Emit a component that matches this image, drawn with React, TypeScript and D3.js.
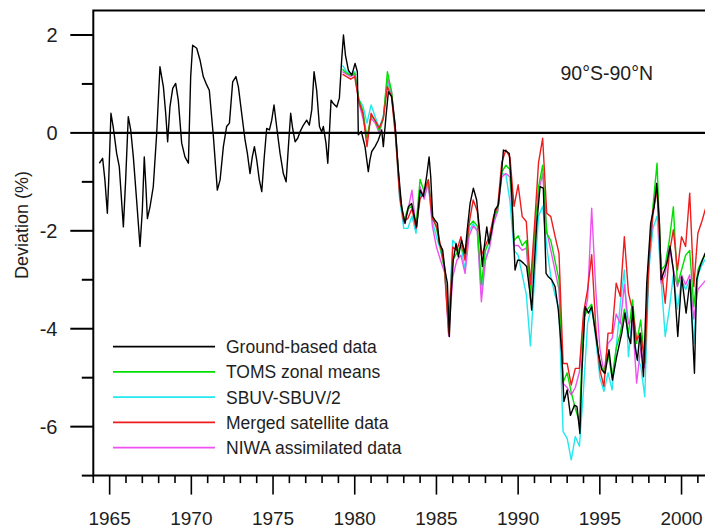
import * as d3 from "d3";

// ground-based record
const groundYears = [
  1964.37, 1964.57, 1964.71, 1964.86, 1964.94, 1965.08, 1965.22, 1965.43, 1965.59, 1965.84,
  1965.98, 1966.14, 1966.29, 1966.45, 1966.65, 1966.86, 1967.0, 1967.12, 1967.22, 1967.31,
  1967.47, 1967.67, 1967.88, 1968.08, 1968.29, 1968.43, 1968.55, 1968.69, 1968.86, 1969.04,
  1969.2, 1969.41, 1969.61, 1969.82, 1969.96, 1970.08, 1970.33, 1970.53, 1970.73, 1970.94,
  1971.1, 1971.35, 1971.59, 1971.76, 1971.96, 1972.16, 1972.33, 1972.53, 1972.73, 1972.88,
  1973.08, 1973.29, 1973.43, 1973.59, 1973.73, 1973.86, 1974.0, 1974.16, 1974.31, 1974.45,
  1974.61, 1974.78, 1974.92, 1975.06, 1975.22, 1975.43, 1975.63, 1975.8, 1975.94, 1976.08,
  1976.2, 1976.35, 1976.51, 1976.65, 1976.86, 1977.06, 1977.22, 1977.37, 1977.51, 1977.67,
  1977.84, 1977.98, 1978.08, 1978.24, 1978.35, 1978.45, 1978.55, 1978.69, 1978.9, 1979.06,
  1979.2, 1979.31, 1979.43, 1979.61, 1979.82, 1980.02, 1980.16, 1980.22, 1980.4, 1980.63,
  1980.83, 1980.93, 1981.04, 1981.24, 1981.44, 1981.65, 1981.75, 1981.91, 1982.06, 1982.26,
  1982.46, 1982.67, 1982.87, 1983.08, 1983.28, 1983.48, 1983.63, 1983.79, 1984.0, 1984.2,
  1984.4, 1984.55, 1984.65, 1984.77, 1984.91, 1985.06, 1985.18, 1985.38, 1985.52, 1985.67,
  1985.79, 1985.89, 1986.03, 1986.2, 1986.34, 1986.54, 1986.75, 1986.88, 1987.06, 1987.26,
  1987.46, 1987.67, 1987.81, 1987.93, 1988.08, 1988.22, 1988.38, 1988.59, 1988.79, 1988.95,
  1989.1, 1989.3, 1989.46, 1989.61, 1989.81, 1989.97, 1990.12, 1990.32, 1990.52, 1990.73,
  1990.83, 1990.97, 1991.14, 1991.34, 1991.54, 1991.71, 1991.85, 1992.05, 1992.26, 1992.46,
  1992.67, 1992.8, 1993.0, 1993.2, 1993.45, 1993.6, 1993.78, 1993.9, 1994.1, 1994.3,
  1994.5, 1994.71, 1994.91, 1995.12, 1995.32, 1995.56, 1995.77, 1996.03, 1996.34, 1996.54,
  1996.75, 1996.89, 1997.01, 1997.16, 1997.3, 1997.46, 1997.67, 1997.87, 1998.11, 1998.32,
  1998.48, 1998.65, 1998.75, 1998.89, 1999.1, 1999.3, 1999.5, 1999.77, 2000.01, 2000.28,
  2000.52, 2000.79, 2000.93, 2001.13, 2001.44, 2001.7,
];
const ground = [
  -0.62, -0.52, -0.96, -1.64, -1.0, 0.4, 0.12, -0.42, -0.69, -1.92,
  -0.96, 0.33, 0.06, -0.49, -1.37, -2.32, -1.58, -0.49, -1.1, -1.75,
  -1.51, -1.1, -0.01, 1.35, 0.94, 0.4, -0.18, 0.53, 0.91, 1.01,
  0.67, -0.21, -0.49, -0.62, 1.15, 1.79, 1.73, 1.49, 1.15, 0.98,
  0.87, -0.08, -1.17, -0.96, -0.28, 0.13, 0.2, 1.04, 1.15, 0.94,
  0.4, -0.15, -0.42, -0.83, -0.49, -0.28, -0.55, -0.96, -1.2, -0.55,
  0.09, 0.06, 0.26, 0.57, 0.13, -0.42, -0.83, -1.0, -0.28, 0.4,
  0.09, -0.18, -0.11, 0.02, 0.16, 0.26, 0.16, 0.47, 1.25, 0.87,
  0.13, 0.02, 0.13, -0.21, -0.62, 0.0, 0.67, 0.6, 0.53, 0.71,
  1.49, 2.0, 1.59, 1.28, 1.18, 1.42, 1.25, -0.04, 0.03, -0.28,
  -0.79, -0.55, -0.38, -0.28, -0.15, 0.06, -0.28, 0.33, 0.84, 0.74,
  0.2, -0.76, -1.51, -1.85, -1.51, -1.44, -1.68, -1.92, -1.17, -1.3,
  -0.89, -0.49, -0.89, -1.71, -1.78, -1.85, -2.26, -2.39, -2.8, -3.07,
  -4.16, -3.34, -2.6, -2.26, -2.53, -2.19, -2.46, -2.0, -1.44, -1.13,
  -1.37, -2.12, -2.73, -2.32, -1.92, -2.26, -1.99, -1.57, -1.47, -0.96,
  -0.35, -0.38, -0.42, -1.23, -2.8, -2.6, -2.6, -2.66, -2.73, -3.28,
  -3.62, -2.8, -1.85, -1.1, -1.13, -2.87, -2.94, -3.0, -3.14, -3.62,
  -4.5, -5.49, -5.25, -5.77, -5.56, -5.59, -6.14, -4.91, -3.55, -3.68,
  -3.55, -4.03, -4.5, -4.84, -4.91, -4.43, -5.05, -4.57, -4.09, -3.68,
  -4.16, -4.3, -3.55, -4.37, -4.64, -4.09, -4.98, -3.07, -1.85, -1.51,
  -1.03, -1.85, -3.0, -2.87, -2.66, -2.32, -2.8, -4.16, -2.94, -3.68,
  -3.0, -4.91, -3.0, -2.73, -2.46, -2.4,
];

// satellite era, quarterly
const satYears = [
  1979.25, 1979.5, 1979.75,
  1980, 1980.25, 1980.5, 1980.75, 1981, 1981.25, 1981.5, 1981.75,
  1982, 1982.25, 1982.5, 1982.75, 1983, 1983.25, 1983.5, 1983.75,
  1984, 1984.25, 1984.5, 1984.75, 1985, 1985.25, 1985.5, 1985.75,
  1986, 1986.25, 1986.5, 1986.75, 1987, 1987.25, 1987.5, 1987.75,
  1988, 1988.25, 1988.5, 1988.75, 1989, 1989.25, 1989.5, 1989.75,
  1990, 1990.25, 1990.5, 1990.75, 1991, 1991.25, 1991.5, 1991.75,
  1992, 1992.25, 1992.5, 1992.75, 1993, 1993.25, 1993.5, 1993.75,
  1994, 1994.25, 1994.5, 1994.75, 1995, 1995.25, 1995.5, 1995.75,
  1996, 1996.25, 1996.5, 1996.75, 1997, 1997.25, 1997.5, 1997.75,
  1998, 1998.25, 1998.5, 1998.75, 1999, 1999.25, 1999.5, 1999.75,
  2000, 2000.25, 2000.5, 2000.75, 2001, 2001.25, 2001.5,
];
const toms = [
  1.3, 1.22, 1.18,
  1.22, 0.7, 0.45, -0.1, 0.35, 0.25, 0.05, 0.3,
  1.25, 0.85, 0.0, -1.2, -1.8, -1.55, -1.5, -1.9,
  -0.95, -1.2, -0.95, -1.7, -1.95, -2.35, -2.8, -4.0,
  -2.6, -2.45, -2.3, -2.55, -1.9, -1.8, -1.9, -3.1,
  -2.4, -2.2, -1.75, -1.55, -0.8, -0.66, -0.75, -2.2,
  -2.1, -2.3, -2.2, -3.3, -2.1, -1.1, -0.66, -2.05,
  -2.2, -2.6, -3.0, -5.1, -4.9, -5.3, -5.63, -5.9,
  -3.8, -3.6, -3.5, -4.1, -4.7, -4.9, -4.5, -5.0,
  -4.4, -4.1, -3.6, -4.1, -3.41, -4.3, -3.82, -4.7,
  -2.6, -1.5, -0.62, -2.8, -2.7, -2.2, -1.51, -3.1,
  -2.8, -2.5, -2.4, -3.55, -2.8, -2.6, -2.46,
];
const sbuv = [
  1.38, 1.25, 1.2,
  1.25, 0.68, 0.55, 0.2, 0.57, 0.33, 0.1, 0.35,
  1.05, 0.8, -0.05, -1.35, -1.95, -1.95, -1.7, -2.05,
  -1.25, -1.3, -1.05, -1.8, -2.12, -2.4, -2.75, -3.9,
  -2.19, -2.3, -2.3, -2.8, -2.0, -1.85, -2.0, -3.3,
  -2.6, -2.3, -1.8, -1.6, -0.83, -0.85, -1.4, -2.4,
  -2.5, -2.9, -3.3, -4.35, -3.0, -1.7, -1.5, -2.32,
  -2.94, -3.3, -3.6, -6.1, -6.24, -6.68, -6.2, -6.4,
  -5.25, -3.89, -3.55, -4.2, -5.0, -5.28, -4.9, -5.25,
  -4.4, -3.5, -2.8, -4.57, -3.7, -4.6, -4.75, -5.39,
  -2.8, -1.95, -1.7, -3.0, -4.16, -3.6, -2.9, -3.6,
  -3.0, -3.2, -3.0, -4.3, -2.9, -2.7, -2.55,
];
const merged = [
  1.2, 1.15, 1.1,
  1.15, 0.64, 0.4, -0.28, 0.4, 0.25, 0.1, 0.3,
  0.95, 0.74, -0.1, -1.3, -1.8, -1.75, -1.55, -1.95,
  -1.35, -1.2, -0.96, -1.75, -1.9, -2.3, -2.75, -4.1,
  -2.33, -2.4, -2.12, -2.6, -1.85, -1.37, -1.6, -2.5,
  -2.3, -2.1, -1.7, -1.5, -0.6, -0.35, -0.5, -1.5,
  -1.06, -1.71, -1.81, -3.1, -1.9, -0.6, -0.11, -1.64,
  -1.71, -2.1, -2.46, -4.71, -4.71, -5.15, -4.81, -4.81,
  -3.68, -3.2, -2.49, -3.96, -4.84, -5.18, -4.09, -4.09,
  -3.07, -3.34, -2.12, -3.27, -3.62, -4.23, -4.09, -4.7,
  -2.6, -1.6, -1.17, -2.73, -3.48, -2.46, -1.98, -2.8,
  -2.12, -2.32, -1.23, -3.14, -2.05, -1.8, -1.51,
];
const niwa = [
  1.25, 1.2, 1.15,
  1.2, 0.62, 0.3, -0.1, 0.3, 0.2, 0.0, 0.3,
  1.11, 0.85, 0.05, -1.2, -1.85, -1.6, -1.17, -1.95,
  -1.1, -1.35, -1.0, -1.9, -2.33, -2.6, -2.85, -4.15,
  -2.94, -2.6, -2.5, -2.87, -2.1, -1.9, -2.0, -3.45,
  -2.6, -2.35, -1.85, -1.6, -0.9, -0.83, -0.9, -2.3,
  -2.3, -2.4, -2.35, -3.4, -2.2, -1.2, -0.83, -2.0,
  -2.4, -2.8, -3.2, -5.12, -5.2, -5.35, -5.2, -4.88,
  -3.8, -3.4, -1.54, -3.2, -4.4, -4.9, -4.3, -4.2,
  -3.7, -3.9, -3.1, -3.9, -3.8, -5.11, -4.4, -4.8,
  -2.7, -1.7, -1.1, -3.07, -2.9, -2.3, -2.8, -3.14,
  -2.9, -3.1, -2.9, -3.8, -3.2, -3.1, -3.0,
];

const seriesNames = [
  "Ground-based data",
  "TOMS zonal means",
  "SBUV-SBUV/2",
  "Merged satellite data",
  "NIWA assimilated data",
];
const seriesColors = ["#000000", "#00e000", "#22e8f0", "#ee1c1c", "#f050f0"];

const W = 705;
const H = 529;
const left = 93.3;
const top = 10.5;
const bottom = 475.6;
const font = "'Liberation Sans', Arial, Helvetica, sans-serif";
const ink = "#1e1e1e";

export default function App() {
  const x = d3.scaleLinear().domain([1964, 2002]).range([left, left + 38 * 16.34]);
  const y = d3.scaleLinear().domain([-7, 2.5]).range([bottom, top]);

  const line = d3
    .line<[number, number]>()
    .x((d) => x(d[0]))
    .y((d) => y(d[1]));

  const groundPts = groundYears.map((t, i) => [t, ground[i]] as [number, number]);
  const sat = (vals: number[]) => satYears.map((t, i) => [t, vals[i]] as [number, number]);

  // draw order: satellites underneath, ground record on top
  const paths = [
    { d: line(sat(sbuv)), c: seriesColors[2] },
    { d: line(sat(niwa)), c: seriesColors[4] },
    { d: line(sat(toms)), c: seriesColors[1] },
    { d: line(sat(merged)), c: seriesColors[3] },
    { d: line(groundPts), c: seriesColors[0] },
  ];

  const xMajor = x.ticks(8);
  const xMinor = x.ticks(40).filter((t) => !xMajor.includes(t));
  const yMajor = y.ticks(5);
  const yMinor = y.ticks(10).filter((t) => !yMajor.includes(t));
  const xRight = x.range()[1];

  return (
    <svg
      width={W}
      height={H}
      style={{ position: "absolute", left: 0, top: 0, background: "#fff" }}
      fontFamily={font}
    >
      <defs>
        <clipPath id="plot">
          <rect x={left} y={top} width={xRight - left} height={bottom - top} />
        </clipPath>
      </defs>

      <g clipPath="url(#plot)" fill="none" strokeWidth={1.4} strokeLinejoin="round">
        {paths.map((p, i) => (
          <path key={i} d={p.d ?? ""} stroke={p.c} />
        ))}
      </g>

      {/* zero line */}
      <line x1={left} x2={xRight} y1={y(0)} y2={y(0)} stroke="#000" strokeWidth={2.2} />

      {/* frame */}
      <path
        d={`M${xRight},${top}H${left}V${bottom}H${xRight}`}
        fill="none"
        stroke="#000"
        strokeWidth={2}
      />

      {/* y axis */}
      {yMajor.map((t) => (
        <g key={"ym" + t}>
          <line x1={left - 23} x2={left} y1={y(t)} y2={y(t)} stroke="#000" strokeWidth={2} />
          <text x={57.5} y={y(t)} dy="0.36em" textAnchor="end" fontSize={20} fill={ink}>
            {String(t)}
          </text>
        </g>
      ))}
      {yMinor.map((t) => (
        <line key={"yn" + t} x1={left - 11.5} x2={left} y1={y(t)} y2={y(t)} stroke="#000" strokeWidth={2} />
      ))}
      <text
        transform={`translate(28,225) rotate(-90)`}
        textAnchor="middle"
        fontSize={18}
        fill={ink}
      >
        Deviation (%)
      </text>

      {/* x axis */}
      {xMajor.map((t) => (
        <g key={"xm" + t}>
          <line x1={x(t)} x2={x(t)} y1={bottom} y2={bottom + 19} stroke="#000" strokeWidth={1.6} />
          <text x={x(t)} y={525} textAnchor="middle" fontSize={19} fill={ink}>
            {String(t)}
          </text>
        </g>
      ))}
      {xMinor.map((t) => (
        <line key={"xn" + t} x1={x(t)} x2={x(t)} y1={bottom} y2={bottom + 7.5} stroke="#000" strokeWidth={1.6} />
      ))}

      {/* region label */}
      <text x={560.5} y={80} fontSize={19.5} fill={ink}>
        90°S-90°N
      </text>

      {/* legend */}
      {seriesNames.map((name, i) => {
        const ly = 346.7 + i * 25.25;
        return (
          <g key={name}>
            <line x1={113} x2={215} y1={ly} y2={ly} stroke={seriesColors[i]} strokeWidth={1.8} />
            <text x={226} y={ly} dy="0.36em" fontSize={17.5} fill={ink}>
              {name}
            </text>
          </g>
        );
      })}
    </svg>
  );
}
